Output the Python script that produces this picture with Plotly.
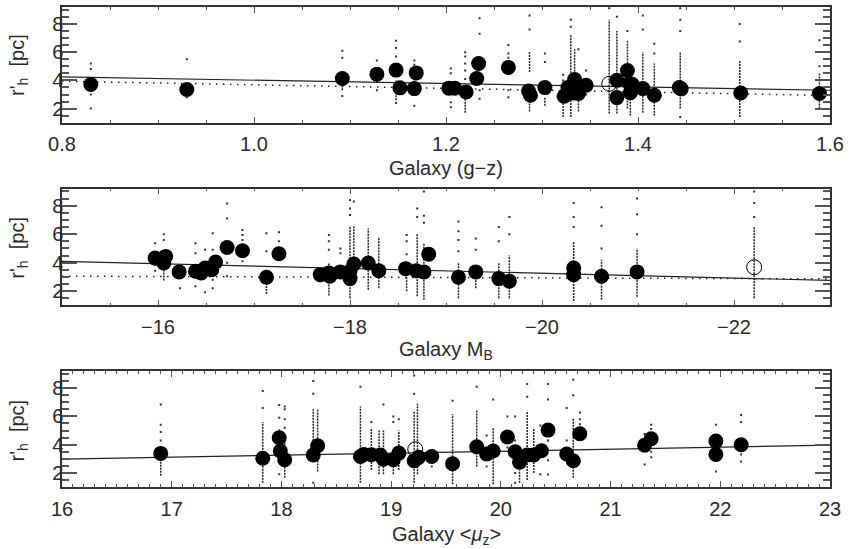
import plotly.graph_objects as go

# ---------------- Panel 1: Galaxy (g-z) ----------------
p1_gal_x = [0.830, 0.930, 1.092, 1.128, 1.148, 1.152, 1.167, 1.169, 1.203, 1.209, 1.221, 1.232, 1.234,
            1.265, 1.286, 1.288, 1.303, 1.323, 1.327, 1.331, 1.332, 1.334, 1.338, 1.346, 1.378, 1.378,
            1.389, 1.391, 1.392, 1.394, 1.405, 1.417, 1.443, 1.445, 1.507, 1.589]
p1_gal_y = [3.71, 3.35, 4.13, 4.44, 4.73, 3.47, 3.42, 4.53, 3.45, 3.45, 3.18, 4.13, 5.20,
            4.92, 3.25, 2.95, 3.49, 2.88, 3.49, 3.42, 3.10, 4.06, 3.07, 3.66, 4.01, 2.78,
            4.70, 3.78, 3.12, 3.73, 3.42, 2.95, 3.49, 3.40, 3.11, 3.07]
p1_open_x = [1.370]
p1_open_y = [3.76]
p1_seg_x = [1.092, 1.148, 1.167, 1.220, 1.287, 1.287, 1.303, 1.322, 1.330, 1.330, 1.334, 1.338,
            1.370, 1.378, 1.389, 1.392, 1.405, 1.417, 1.444, 1.506, 1.589]
p1_seg_lo = [3.3, 2.6, 3.0, 1.7, 1.8, 4.6, 2.2, 1.4, 4.3, 1.4, 4.4, 1.8,
             1.65, 1.65, 2.0, 1.5, 1.7, 1.5, 2.0, 1.4, 2.0]
p1_seg_hi = [4.6, 4.0, 4.4, 2.8, 2.6, 6.0, 2.8, 2.6, 7.2, 2.6, 6.2, 2.6,
             8.3, 7.5, 6.8, 5.0, 6.0, 5.2, 6.0, 5.4, 4.5]
p1_dot_x = ([0.830] * 4 + [0.930] * 2 + [1.092] * 3 + [1.128] * 3 + [1.148] * 5 + [1.167] * 3 +
            [1.205] * 4 + [1.220] * 6 + [1.235] * 4 + [1.265] * 5 + [1.287] * 2 + [1.303] * 2 +
            [1.322] * 2 + [1.330] * 2 + [1.338] + [1.346] * 2 + [1.370] + [1.378] + [1.389] +
            [1.405] * 2 + [1.417] * 2 + [1.444] * 4 + [1.506] * 2 + [1.589] * 2)
p1_dot_y = ([5.2, 4.8, 3.0, 2.0] + [5.5, 2.8] + [6.1, 5.6, 2.9] + [5.4, 3.9, 3.3] +
            [6.8, 6.3, 5.7, 5.1, 2.4] + [5.4, 5.1, 2.2] + [4.85, 4.5, 2.45, 2.1] +
            [6.0, 5.7, 5.2, 4.7, 4.1, 3.6] + [8.4, 7.3, 3.3, 2.7] + [6.5, 5.9, 5.6, 3.3, 2.8] +
            [8.6, 7.6] + [5.9, 5.3] + [4.4, 4.0] + [8.3, 7.8] + [6.2] + [4.7, 3.0] + [9.1] + [8.5] +
            [7.5] + [8.6, 7.6] + [6.6, 5.9] + [9.1, 8.3, 7.5, 1.4] + [8.0, 6.75] + [6.85, 5.0])
p1_fit_x = [0.8, 1.6]
p1_fit_solid = [4.25, 3.30]
p1_fit_dotted = [3.94, 2.93]

# ---------------- Panel 2: Galaxy M_B ----------------
p2_gal_x = [-15.97, -16.08, -16.06, -16.22, -16.39, -16.45, -16.49, -16.56, -16.60, -16.72, -16.88,
            -17.13, -17.26, -17.69, -17.78, -17.79, -17.90, -18.00, -18.00, -18.04, -18.19, -18.30,
            -18.58, -18.69, -18.77, -18.82, -19.13, -19.31, -19.55, -19.66, -20.33, -20.33, -20.62,
            -20.99]
p2_gal_y = [4.32, 4.44, 3.98, 3.35, 3.40, 3.28, 3.63, 3.51, 4.05, 5.07, 4.84,
            2.98, 4.63, 3.16, 3.28, 3.05, 3.35, 3.40, 2.88, 3.91, 3.98, 3.44,
            3.58, 3.44, 3.35, 4.60, 2.98, 3.35, 2.88, 2.70, 3.63, 3.16, 3.05,
            3.35]
p2_open_x = [-22.21]
p2_open_y = [3.68]
p2_seg_x = [-16.06, -17.13, -17.78, -18.00, -18.04, -18.19, -18.30, -18.59, -18.70, -18.77,
            -19.13, -19.31, -19.55, -19.66, -20.33, -20.62, -20.99, -22.21]
p2_seg_lo = [2.75, 1.8, 1.7, 1.5, 4.1, 2.1, 2.2, 2.0, 1.65, 1.4,
             1.5, 2.2, 1.5, 1.5, 1.3, 1.4, 1.6, 1.5]
p2_seg_hi = [3.5, 2.5, 4.0, 6.6, 6.6, 6.4, 5.8, 4.0, 6.0, 5.4,
             4.0, 3.5, 4.0, 4.5, 5.5, 4.2, 5.0, 6.5]
p2_dot_x = ([-15.97] * 3 + [-16.06] * 2 + [-16.23] + [-16.39] * 3 + [-16.49] * 2 + [-16.57] * 4 +
            [-16.72] * 4 + [-16.88] * 4 + [-17.13] * 2 + [-17.26] * 2 + [-17.69] + [-17.78] * 3 +
            [-17.90] * 2 + [-18.00] * 3 + [-18.04] + [-18.59] * 3 + [-18.70] * 2 + [-18.77] * 3 +
            [-19.13] * 4 + [-19.31] * 2 + [-19.55] * 2 + [-19.66] * 2 + [-20.33] * 3 +
            [-20.62] * 3 + [-20.99] * 3 + [-22.21] * 3)
p2_dot_y = ([5.37, 3.86, 3.44] + [6.0, 5.6] + [2.2] + [5.37, 4.67, 2.35] + [4.9, 1.93] +
            [6.07, 4.9, 2.8, 2.2] + [8.16, 7.1, 4.0, 3.05] + [6.3, 5.95, 5.6, 4.1] + [6.07, 4.8] +
            [6.14, 5.5] + [2.7] + [5.95, 5.5, 4.9] + [5.0, 4.67] + [8.4, 7.8, 7.35] + [8.3] +
            [5.95, 5.5, 4.6] + [7.8, 7.2] + [9.0, 7.3, 6.8] + [6.9, 6.2, 5.6, 4.8] + [5.7, 4.9] +
            [6.5, 5.5] + [7.2, 6.0] + [8.2, 7.2, 6.5] + [7.9, 6.6, 5.0] + [8.5, 7.4, 6.0] +
            [9.0, 8.2, 7.2])
p2_fit_x = [-15, -23]
p2_fit_solid = [4.09, 2.75]
p2_fit_dotted = [3.05, 2.86]

# ---------------- Panel 3: Galaxy <mu_z> ----------------
p3_gal_x = [16.90, 17.83, 17.98, 17.99, 18.03, 18.29, 18.33, 18.72, 18.75, 18.82, 18.90, 18.93,
            19.02, 19.07, 19.21, 19.25, 19.37, 19.56, 19.78, 19.87, 19.93, 20.06, 20.13, 20.17,
            20.24, 20.30, 20.37, 20.43, 20.60, 20.66, 20.72, 21.31, 21.37, 21.96, 21.96, 22.19]
p3_gal_y = [3.38, 3.04, 4.49, 3.55, 2.93, 3.27, 3.92, 3.16, 3.31, 3.29, 3.27, 2.97,
            2.93, 3.40, 2.86, 3.10, 3.16, 2.65, 3.85, 3.34, 3.55, 4.54, 3.50, 2.76,
            3.27, 3.27, 3.57, 5.03, 3.34, 2.86, 4.77, 3.96, 4.42, 4.26, 3.31, 3.99]
p3_open_x = [19.22]
p3_open_y = [3.67]
p3_seg_x = [16.90, 17.83, 17.98, 18.03, 18.29, 18.33, 18.72, 18.82, 18.89, 18.93, 19.02, 19.07,
            19.21, 19.24, 19.56, 19.78, 19.93, 20.17, 20.24, 20.30, 20.66]
p3_seg_lo = [1.8, 1.3, 4.0, 1.65, 3.0, 2.1, 1.3, 2.2, 1.9, 1.9, 1.9, 2.2,
             1.3, 1.9, 1.2, 2.45, 1.2, 1.3, 1.5, 2.0, 1.65]
p3_seg_hi = [2.8, 5.6, 5.1, 4.5, 6.5, 6.5, 6.7, 5.2, 5.0, 5.0, 3.1, 5.0,
             6.4, 6.9, 6.15, 6.5, 5.2, 2.2, 6.4, 5.2, 5.9]
p3_dot_x = ([16.90] * 4 + [17.83] * 2 + [17.98] * 3 + [18.03] * 4 + [18.29] * 3 + [18.72] +
            [18.82] + [18.93] + [19.02] * 2 + [19.07] + [19.21] * 2 + [19.37] + [19.56] +
            [19.78] + [19.87] * 2 + [19.93] + [20.06] * 2 + [20.13] * 4 + [20.24] * 2 +
            [20.36] * 2 + [20.43] * 6 + [20.60] * 2 + [20.66] * 2 + [20.72] * 4 + [21.31] * 2 +
            [21.37] * 4 + [21.96] * 2 + [22.19] * 4)
p3_dot_y = ([6.85, 5.4, 4.9, 4.3] + [7.8, 6.6] + [6.8, 5.9, 1.9] + [6.7, 6.5, 5.8, 5.2] +
            [8.5, 7.6, 1.3] + [8.1] + [5.6] + [6.85] + [6.0, 5.6] + [5.8] + [8.9, 7.6] + [2.45] +
            [7.1] + [8.1] + [4.65, 2.45] + [7.2] + [6.0, 3.8] + [6.0, 4.3, 2.0, 1.3] + [8.3, 7.4] +
            [5.35, 1.9] + [8.3, 7.2, 5.1, 4.3, 2.9, 1.88] + [6.6, 4.3] + [8.6, 7.5] +
            [6.27, 5.8, 5.45, 2.8] + [4.75, 2.6] + [5.4, 5.1, 3.5, 3.1] + [5.4, 2.1] +
            [6.1, 5.6, 3.3, 2.8])
p3_fit_x = [16, 23]
p3_fit_solid = [2.97, 3.96]

y_ticks = [2, 4, 6, 8]

panels = [
    dict(gx=p1_gal_x, gy=p1_gal_y, ox=p1_open_x, oy=p1_open_y, sx=p1_seg_x, slo=p1_seg_lo, shi=p1_seg_hi,
         dx=p1_dot_x, dy=p1_dot_y, fx=p1_fit_x, fs=p1_fit_solid, fd=p1_fit_dotted),
    dict(gx=p2_gal_x, gy=p2_gal_y, ox=p2_open_x, oy=p2_open_y, sx=p2_seg_x, slo=p2_seg_lo, shi=p2_seg_hi,
         dx=p2_dot_x, dy=p2_dot_y, fx=p2_fit_x, fs=p2_fit_solid, fd=p2_fit_dotted),
    dict(gx=p3_gal_x, gy=p3_gal_y, ox=p3_open_x, oy=p3_open_y, sx=p3_seg_x, slo=p3_seg_lo, shi=p3_seg_hi,
         dx=p3_dot_x, dy=p3_dot_y, fx=p3_fit_x, fs=p3_fit_solid, fd=None),
]

fig = go.Figure()
for i, p in enumerate(panels):
    xa = "x" if i == 0 else f"x{i+1}"
    ya = "y" if i == 0 else f"y{i+1}"
    # dense strips of individual clusters
    for sx, lo, hi in zip(p["sx"], p["slo"], p["shi"]):
        fig.add_trace(go.Scatter(x=[sx, sx], y=[lo, hi], mode="lines", xaxis=xa, yaxis=ya,
                                 line=dict(color="#222", width=1.5, dash="2px,1px"),
                                 showlegend=False, hoverinfo="skip"))
    # isolated clusters
    fig.add_trace(go.Scatter(x=p["dx"], y=p["dy"], mode="markers", xaxis=xa, yaxis=ya,
                             marker=dict(symbol="square", size=2, color="#333"),
                             showlegend=False))
    # fits
    fig.add_trace(go.Scatter(x=p["fx"], y=p["fs"], mode="lines", xaxis=xa, yaxis=ya,
                             line=dict(color="#222", width=1.2), showlegend=False))
    if p["fd"] is not None:
        fig.add_trace(go.Scatter(x=p["fx"], y=p["fd"], mode="lines", xaxis=xa, yaxis=ya,
                                 line=dict(color="#222", width=1.5, dash="1.5px,5.5px"),
                                 showlegend=False))
    # galaxy medians
    fig.add_trace(go.Scatter(x=p["gx"], y=p["gy"], mode="markers", xaxis=xa, yaxis=ya,
                             marker=dict(size=15, color="black", line=dict(width=0)),
                             showlegend=False))
    fig.add_trace(go.Scatter(x=p["ox"], y=p["oy"], mode="markers", xaxis=xa, yaxis=ya,
                             marker=dict(symbol="circle-open", size=15, color="black",
                                         line=dict(width=1, color="black")),
                             showlegend=False))

font = dict(family="Liberation Sans, Arial, sans-serif", size=20, color="#2a2a2a")
axis_common = dict(showline=True, mirror="allticks", linecolor="#333", linewidth=1.5,
                   ticks="inside", tickcolor="#555", showgrid=False, zeroline=False,
                   tickfont=font, ticklabeloverflow="allow")

domains = [[0.7573, 0.998], [0.3776, 0.6203], [0.0, 0.2407]]
xranges = [[0.8, 1.6], [-15, -23], [16, 23]]
xtickvals = [[0.8, 1.0, 1.2, 1.4, 1.6], [-16, -18, -20, -22], [16, 17, 18, 19, 20, 21, 22, 23]]
xticktext = [["0.8", "1.0", "1.2", "1.4", "1.6"], ["\u221216", "\u221218", "\u221220", "\u221222"],
             ["16", "17", "18", "19", "20", "21", "22", "23"]]
xminor = [0.05, 0.5, 0.1]

layout = dict(width=849, height=549, paper_bgcolor="white", plot_bgcolor="white",
              margin=dict(l=62, r=17, t=5, b=62), showlegend=False)
for i in range(3):
    xk = "xaxis" if i == 0 else f"xaxis{i+1}"
    yk = "yaxis" if i == 0 else f"yaxis{i+1}"
    xa = "x" if i == 0 else f"x{i+1}"
    ya = "y" if i == 0 else f"y{i+1}"
    layout[xk] = dict(axis_common, domain=[0, 1], anchor=ya, range=xranges[i],
                      tickmode="array", tickvals=xtickvals[i], ticktext=xticktext[i],
                      ticklen=6, ticklabelstandoff=3,
                      minor=dict(ticks="inside", dtick=xminor[i], tick0=0, ticklen=3, tickcolor="#555"))
    layout[yk] = dict(axis_common, domain=domains[i], anchor=xa, range=[1, 9.2],
                      tickmode="array", tickvals=y_ticks, ticklen=15, tickwidth=1.5,
                      ticklabelstandoff=-7,
                      minor=dict(ticks="inside", dtick=0.5, tick0=0, ticklen=7, tickcolor="#555"))
fig.update_layout(**layout)

ann = [
    dict(text="Galaxy (g\u2212z)", x=0.5, y=0.664),
    dict(text="Galaxy M<sub>B</sub>", x=0.5, y=0.284),
    dict(text="Galaxy &lt;<i>\u03bc</i><sub>z</sub>&gt;", x=0.5, y=-0.1),
]
for a in ann:
    fig.add_annotation(xref="paper", yref="paper", showarrow=False, font=font,
                       xanchor="center", yanchor="middle", **a)
for yc in [0.878, 0.498, 0.118]:
    fig.add_annotation(text="r'<sub>h</sub>  [pc]", xref="paper", yref="paper", x=-0.057, y=yc,
                       showarrow=False, textangle=-90, font=font, xanchor="center", yanchor="middle")

fig.write_html("out.html", config={"displayModeBar": False},
               post_script="document.body.style.margin='0';document.body.style.overflow='hidden';")
